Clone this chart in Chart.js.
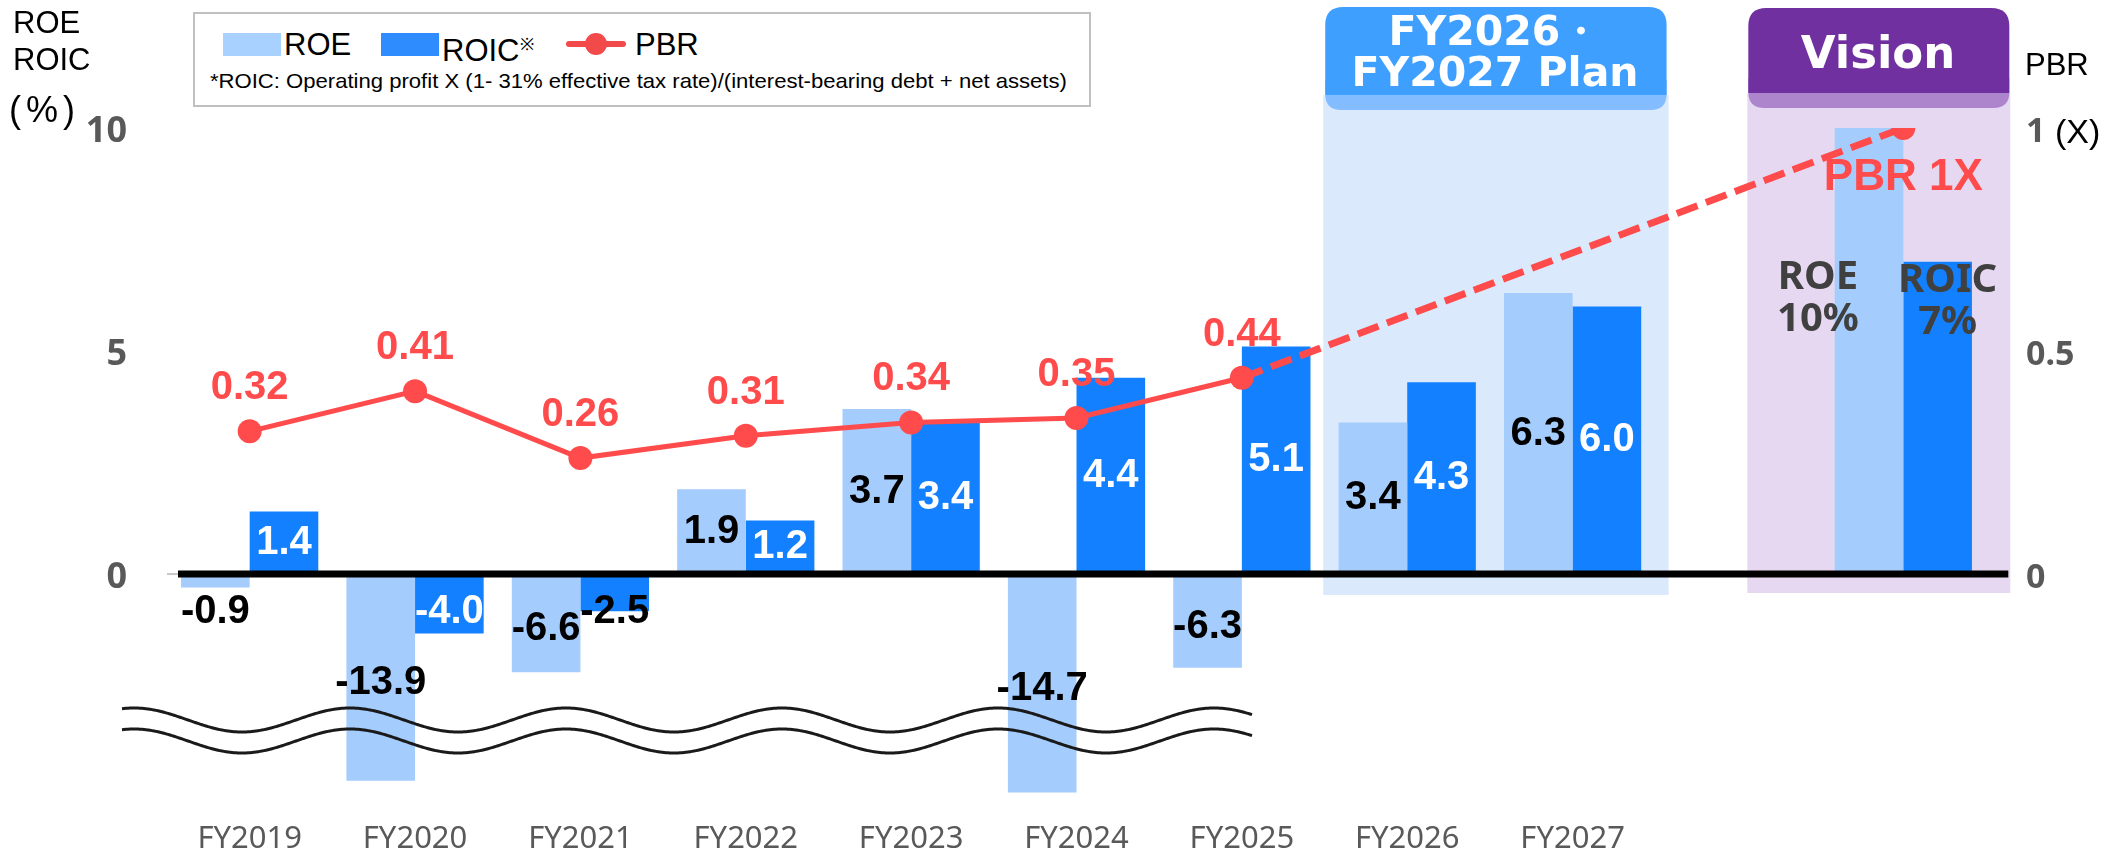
<!DOCTYPE html>
<html><head><meta charset="utf-8">
<script src="https://cdn.jsdelivr.net/npm/chart.js@4.4.1/dist/chart.umd.min.js"></script>
<style>
html,body{margin:0;padding:0;background:#fff;}
#wrap{position:relative;width:2125px;height:853px;overflow:hidden;}
#c{position:absolute;left:0;top:0;}
.t{position:absolute;white-space:nowrap;}
</style></head><body>
<div id="wrap"><canvas id="c" width="2125" height="853"></canvas></div>
<script>
// ---------- data ----------
const categories = ['FY2019','FY2020','FY2021','FY2022','FY2023','FY2024','FY2025','FY2026','FY2027','','Vision'];
const tickLabels = ['FY2019','FY2020','FY2021','FY2022','FY2023','FY2024','FY2025','FY2026','FY2027','',''];
const roe  = [-0.9,-13.9,-6.6,1.9,3.7,-14.7,-6.3,3.4,6.3,null,10];
const roic = [1.4,-4.0,-2.5,1.2,3.4,4.4,5.1,4.3,6.0,null,7];
const pbr  = [0.32,0.41,0.26,0.31,0.34,0.35,0.44,null,null,null,1.0];
const leftTicks  = [0,5,10];
const rightTicks = [0,0.5,1];
const seriesNames = ['ROE','ROIC','PBR'];

// negative side of the % axis is drawn compressed (broken axis)
const NEG_RATIO = 1/3;

class BrokenLinearScale extends Chart.LinearScale {
  determineDataLimits(){ super.determineDataLimits(); if (this.min < 0) this.min *= NEG_RATIO; }
  getPixelForValue(v){
    if (v === null || v === undefined || isNaN(v)) return NaN;
    return super.getPixelForValue(v < 0 ? v * NEG_RATIO : v);
  }
  getValueForPixel(p){ const v = super.getValueForPixel(p); return v < 0 ? v / NEG_RATIO : v; }
}
BrokenLinearScale.id = 'brokenLinear';
BrokenLinearScale.defaults = Chart.LinearScale.defaults;
Chart.register(BrokenLinearScale);

const C_ROE = '#a4cdfe', C_ROIC = '#1380ff', C_RED = '#ff4b4b';
const LBL_FONT = 'bold 40px "Liberation Sans", Arial, sans-serif';

function rrect(ctx,x,y,w,h,rt,rb){
  ctx.beginPath();
  ctx.moveTo(x+rt,y); ctx.lineTo(x+w-rt,y); ctx.quadraticCurveTo(x+w,y,x+w,y+rt);
  ctx.lineTo(x+w,y+h-rb); ctx.quadraticCurveTo(x+w,y+h,x+w-rb,y+h);
  ctx.lineTo(x+rb,y+h); ctx.quadraticCurveTo(x,y+h,x,y+h-rb);
  ctx.lineTo(x,y+rt); ctx.quadraticCurveTo(x,y,x+rt,y); ctx.closePath();
}

const bgPlugin = {
  id:'bg',
  beforeDraw(chart){
    const ctx = chart.ctx, xs = chart.scales.x;
    ctx.save();
    ctx.fillStyle = '#fff'; ctx.fillRect(0,0,chart.width,chart.height);
    // plan box
    const pl = xs.getPixelForValue(7) - 84, pr = xs.getPixelForValue(8) + 96;
    ctx.fillStyle = '#daeafc'; ctx.fillRect(pl, 95, pr-pl, 500);
    ctx.fillStyle = '#84bdff'; rrect(ctx, pl+2, 80, pr-pl-4, 30, 0, 16); ctx.fill();
    ctx.fillStyle = '#3f9fff'; rrect(ctx, pl+2, 7, pr-pl-4, 88, 18, 0); ctx.fill();
    // vision box
    const vl = xs.getPixelForValue(10) - 156, vr = xs.getPixelForValue(10) + 107;
    ctx.fillStyle = '#e7d8f1'; ctx.fillRect(vl, 93, vr-vl, 500);
    ctx.fillStyle = '#ad85cd'; rrect(ctx, vl+1, 78, vr-vl-2, 30, 0, 16); ctx.fill();
    ctx.fillStyle = '#7030a0'; rrect(ctx, vl+1, 8, vr-vl-2, 85, 18, 0); ctx.fill();
    // short gray axis stub at zero
    const z = chart.scales.y.getPixelForValue(0);
    ctx.strokeStyle = '#c8c8c8'; ctx.lineWidth = 2;
    ctx.beginPath(); ctx.moveTo(chart.chartArea.left, z); ctx.lineTo(chart.chartArea.left + 14, z); ctx.stroke();
    ctx.restore();
  }
};

const labelPlugin = {
  id:'labels',
  afterDatasetsDraw(chart){
    const ctx = chart.ctx, ys = chart.scales.y, area = chart.chartArea, xs = chart.scales.x;
    const zero = ys.getPixelForValue(0);
    ctx.save();
    // zero line
    ctx.strokeStyle = '#000'; ctx.lineWidth = 7; ctx.lineCap = 'butt';
    ctx.beginPath(); ctx.moveTo(area.left + 11, zero); ctx.lineTo(xs.getPixelForValue(10) + 105, zero); ctx.stroke();
    // wavy break marks
    ctx.strokeStyle = '#1a1a1a'; ctx.lineWidth = 3;
    [720, 741].forEach(cy => {
      ctx.beginPath();
      for (let x = 122; x <= 1252; x += 2) {
        const y = cy - 12 * Math.cos(2 * Math.PI * (x - 134) / 216);
        if (x === 122) ctx.moveTo(x, y); else ctx.lineTo(x, y);
      }
      ctx.stroke();
    });
    // bar labels
    ctx.textAlign = 'center'; ctx.textBaseline = 'middle';
    [0,1].forEach(di => {
      const meta = chart.getDatasetMeta(di);
      const vals = di === 0 ? roe : roic;
      meta.data.forEach((el, i) => {
        const v = vals[i];
        if (v === null || v === undefined) return;
        if (categories[i] === 'Vision') {
          ctx.font = 'bold 40px "Noto Sans", sans-serif'; ctx.fillStyle = '#404040';
          const lx = el.x + (di === 0 ? -51 : 10);
          const dy = di === 0 ? 0 : 3;
          ctx.fillText(seriesNames[di], lx, ys.getPixelForValue(6.65) + dy);
          ctx.fillText(v + '%', lx, ys.getPixelForValue(5.7) + dy);
          return;
        }
        ctx.font = LBL_FONT;
        let y, col;
        if (v >= 0) {
          y = (el.y + el.base) / 2;
          col = di === 0 ? '#000' : '#fff';
        } else {
          const len = el.y - el.base;
          y = el.base + Math.max(38, len / 2 + 6);
          col = (di === 1 && len > 50) ? '#fff' : '#000';
        }
        ctx.fillStyle = col;
        ctx.fillText(v.toFixed(1), el.x, y);
      });
    });
    // PBR labels
    const lm = chart.getDatasetMeta(2);
    lm.data.forEach((el, i) => {
      const v = pbr[i];
      if (v === null) return;
      ctx.fillStyle = C_RED;
      if (categories[i] === 'Vision') {
        ctx.font = 'bold 44px "Liberation Sans", Arial, sans-serif';
        ctx.fillText(seriesNames[2] + ' ' + v + 'X', el.x, el.y + 50);
      } else {
        ctx.font = LBL_FONT;
        ctx.fillText(v.toFixed(2), el.x, el.y - 43);
      }
    });
    ctx.restore();
  }
};

function noPad(s){ s.paddingTop = 0; s.paddingBottom = 0; s.paddingLeft = 0; s.paddingRight = 0; }

new Chart(document.getElementById('c'), {
  data: {
    labels: categories,
    datasets: [
      { type:'bar', label:seriesNames[0], data:roe, backgroundColor:C_ROE, yAxisID:'y', order:2,
        categoryPercentage:0.83, barPercentage:1.0 },
      { type:'bar', label:seriesNames[1], data:roic, backgroundColor:C_ROIC, yAxisID:'y', order:2,
        categoryPercentage:0.83, barPercentage:1.0 },
      { type:'line', label:seriesNames[2], data:pbr, yAxisID:'y1', order:0,
        borderColor:C_RED, borderWidth:5, pointRadius:12, pointHoverRadius:12,
        pointBackgroundColor:C_RED, pointBorderWidth:0, spanGaps:true, tension:0,
        segment:{
          borderDash: c => c.p0DataIndex >= 6 ? [22,9] : undefined,
          borderWidth: c => c.p0DataIndex >= 6 ? 7 : 5
        } }
    ]
  },
  options: {
    responsive:false, animation:false, devicePixelRatio:1,
    layout:{ padding:{ top:128, left:0, right:0, bottom:0 } },
    plugins:{ legend:{display:false}, tooltip:{enabled:false} },
    scales:{
      x:{ type:'category', offset:true,
        grid:{display:false, drawTicks:false}, border:{display:false},
        ticks:{ autoSkip:false, maxRotation:0, padding:18, color:'#595959',
          font:{family:'"Noto Sans", sans-serif', size:31, lineHeight:1.0},
          callback:(v,i)=>tickLabels[i] },
        afterFit: s => { s.height = 47; noPad(s); } },
      y:{ type:'brokenLinear', position:'left', min:-15.6, max:10, bounds:'data',
        grid:{display:false, drawTicks:false}, border:{display:false},
        afterBuildTicks: s => { s.ticks = leftTicks.map(v=>({value:v})); },
        ticks:{ padding:40, labelOffset:4, color:'#595959', font:{family:'"Noto Sans", sans-serif', size:36, weight:'bold'},
          callback:v=>String(v) },
        afterFit: s => { s.width = 167; noPad(s); } },
      y1:{ type:'linear', position:'right', min:-0.52, max:1, bounds:'data',
        grid:{display:false, drawTicks:false}, border:{display:false},
        afterBuildTicks: s => { s.ticks = rightTicks.map(v=>({value:v})); },
        ticks:{ padding:40, labelOffset:4, color:'#595959', font:{family:'"Noto Sans", sans-serif', size:34, weight:'bold'},
          callback:v=>String(v) },
        afterFit: s => { s.width = 139; noPad(s); } }
    }
  },
  plugins:[bgPlugin, labelPlugin]
});

// ---------- text overlays ----------
const wrap = document.getElementById('wrap');
function txt(s, x, cy, font, color, align, lh){
  const d = document.createElement('div');
  d.className = 't'; d.textContent = s;
  d.style.font = font; d.style.color = color;
  const h = lh || parseFloat(font.match(/(\d+)px/)[1]);
  d.style.lineHeight = h + 'px'; d.style.top = (cy - h/2) + 'px';
  if (align === 'center') { d.style.left = x + 'px'; d.style.transform = 'translateX(-50%)'; }
  else d.style.left = x + 'px';
  wrap.appendChild(d); return d;
}
// left axis title
txt('ROE', 13, 22, '31px "Liberation Sans", Arial, sans-serif', '#000');
txt('ROIC', 13, 59, '31px "Liberation Sans", Arial, sans-serif', '#000');
const pc = txt('(%)', 9, 110, '36px "Liberation Sans", Arial, sans-serif', '#000');
pc.style.letterSpacing = '5px';
// right axis title
txt('PBR', 2025, 64, '31px "Liberation Sans", Arial, sans-serif', '#000');
txt('(X)', 2055, 131, '34px "Liberation Sans", Arial, sans-serif', '#000');
// headers
txt('FY2026・', 1495, 31, 'bold 41px "DejaVu Sans", sans-serif', '#fff', 'center');
txt('FY2027 Plan', 1495, 72, 'bold 41px "DejaVu Sans", sans-serif', '#fff', 'center');
txt('Vision', 1878, 52, 'bold 45px "DejaVu Sans", sans-serif', '#fff', 'center');

// legend box
const box = document.createElement('div');
box.style.cssText = 'position:absolute;left:193px;top:12px;width:894px;height:91px;border:2px solid #c0c0c0;background:#fff;';
wrap.appendChild(box);
function sw(x, col){ const d=document.createElement('div'); d.style.cssText='position:absolute;left:'+x+'px;top:33px;width:58px;height:23px;background:'+col; wrap.appendChild(d); }
sw(223, '#a9d1ff'); sw(381, '#2e8cff');
txt(seriesNames[0], 284, 44, '31px "Liberation Sans", Arial, sans-serif', '#000');
const ro = txt(seriesNames[1], 442, 44, '31px "Liberation Sans", Arial, sans-serif', '#000');
ro.innerHTML = 'ROIC<span style="font-size:17px;vertical-align:11px;">※</span>';
const pl = document.createElement('div');
pl.style.cssText = 'position:absolute;left:566px;top:41px;width:60px;height:6px;background:#f24a4a;border-radius:3px;';
wrap.appendChild(pl);
const pd = document.createElement('div');
pd.style.cssText = 'position:absolute;left:585px;top:33px;width:22px;height:22px;background:#f24a4a;border-radius:50%;';
wrap.appendChild(pd);
txt(seriesNames[2], 635, 44, '31px "Liberation Sans", Arial, sans-serif', '#000');
const fn = txt('*ROIC: Operating profit X (1- 31% effective tax rate)/(interest-bearing debt + net assets)', 210, 80,
  '21px "Liberation Sans", Arial, sans-serif', '#000');
fn.style.transformOrigin = 'left center';
fn.style.transform = 'scaleX(' + (857 / fn.offsetWidth) + ')';
</script>
</body></html>
